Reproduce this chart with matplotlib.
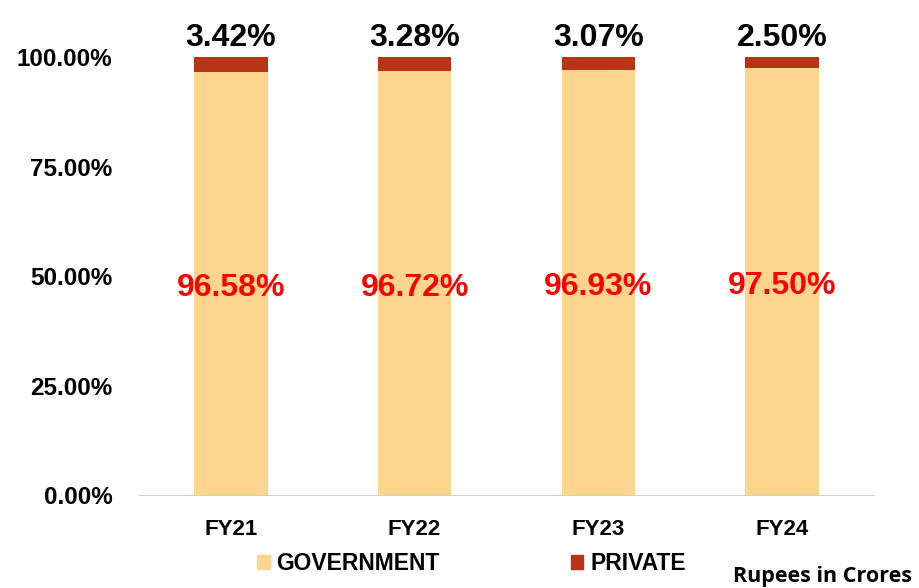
import numpy as np
import matplotlib.pyplot as plt
from matplotlib.patches import Patch

years = ["FY21", "FY22", "FY23", "FY24"]
government = [96.58, 96.72, 96.93, 97.50]
private = [3.42, 3.28, 3.07, 2.50]
yticks = [0, 25, 50, 75, 100]

gov_color = "#FED58F"
pvt_color = "#B83416"

plt.rcParams["font.family"] = ["Liberation Sans", "DejaVu Sans"]

fig = plt.figure(figsize=(9.2, 5.88), dpi=100)
ax = fig.add_axes([0.151, 0.158, 0.799, 0.745])

x = np.arange(len(years))
ax.bar(x, government, width=0.4, color=gov_color)
ax.bar(x, private, width=0.4, bottom=government, color=pvt_color)

for i in range(len(years)):
    ax.text(x[i], government[i] / 2 - 1.0, f"{government[i]:.2f}%", ha="center", va="center",
            color="#FF0000", fontsize=23, fontweight="bold")
    ax.text(x[i], 100 + 1.0, f"{private[i]:.2f}%", ha="center", va="bottom",
            color="black", fontsize=23, fontweight="bold", clip_on=False)

ax.set_xlim(-0.5, 3.5)
ax.set_ylim(0, 100)
ax.set_yticks(yticks)
ax.set_yticklabels([f"{v:.2f}%" for v in yticks], fontsize=17.5, fontweight="bold")
ax.set_xticks(x)
ax.set_xticklabels(years, fontsize=16, fontweight="bold")
ax.tick_params(axis="x", length=0, pad=17)
ax.tick_params(axis="y", length=0, pad=19)

for s in ["top", "right", "left"]:
    ax.spines[s].set_visible(False)
ax.spines["bottom"].set_color("#D0D0D0")

handles = [Patch(color=gov_color, label="GOVERNMENT"), Patch(color=pvt_color, label="PRIVATE")]
fig.legend(handles=handles, loc="center left", bbox_to_anchor=(0.267, 0.041), ncol=2,
           frameon=False, prop={"weight": "bold", "size": 16.5}, handlelength=0.55,
           handleheight=0.55, handletextpad=0.3, columnspacing=5.7, borderpad=0)

fig.text(0.797, 0.02, "Rupees in Crores", fontsize=15.5, fontweight="bold",
         family=["Open Sans", "DejaVu Sans"], ha="left", va="center")

fig.savefig("out.png", dpi=100)
